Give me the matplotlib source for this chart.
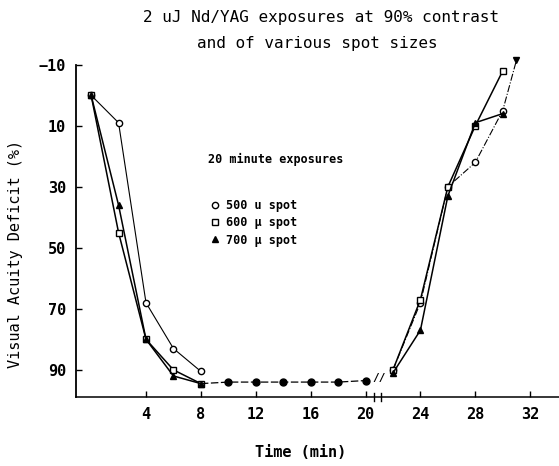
import matplotlib.pyplot as plt
from matplotlib.lines import Line2D

# early phase (exposure), minutes
t_early = [0, 2, 4, 6, 8]
early_500 = [0, 9, 68, 83, 90.5]
early_600 = [0, 45, 80, 90, 94.5]
early_700 = [0, 36, 80, 92, 94.5]

# plateau during the exposure (shared points)
t_plateau = [8, 10, 12, 14, 16, 18, 20]
plateau = [94.5, 94, 94, 94, 94, 94, 93.5]

# recovery phase
t_rec_500 = [22, 24, 26, 28, 30, 31]
rec_500 = [90, 68, 30, 22, 5, -11.5]
t_rec = [22, 24, 26, 28, 30]
rec_600 = [90, 67, 30, 10, -8]
rec_700 = [91, 77, 33, 9, 6]

labels = ['500 u spot', '600 \u00b5 spot', '700 \u00b5 spot']
x_ticks = [4, 8, 12, 16, 20, 24, 28, 32]
y_ticks = [-10, 10, 30, 50, 70, 90]

mono = 'DejaVu Sans Mono'
plt.rcParams['font.family'] = mono

fig = plt.figure(figsize=(5.59, 4.66), dpi=100)
ax = fig.add_axes([0.136, 0.148, 0.864, 0.713])

s500 = dict(color='k', lw=0.8, marker='o', ms=4.5, mfc='white', mec='k')
s600 = dict(color='k', lw=1.1, marker='s', ms=4.5, mfc='white', mec='k')
s700 = dict(color='k', lw=1.1, marker='^', ms=4.5, mfc='k', mec='k')

ax.plot(t_early, early_500, **s500)
ax.plot(t_early, early_600, **s600)
ax.plot(t_early, early_700, **s700)
ax.plot(t_plateau[1:], plateau[1:], ls='none', marker='o', ms=5, color='k')
ax.plot(t_plateau, plateau, color='k', lw=0.9, ls=(0, (6, 2)))

ax.plot(t_rec_500, rec_500, ls='-.', clip_on=False, markevery=list(range(len(rec_500) - 1)), **s500)
ax.plot(t_rec_500[-1:], rec_500[-1:], ls='none', marker='v', ms=4, color='k', clip_on=False)
ax.plot(t_rec, rec_600, **s600)
ax.plot(t_rec, rec_700, **s700)

# break marks between plateau and recovery
ax.text(21, 92.5, '//', ha='center', va='center', fontsize=8, fontweight='bold')

ax.set_xlim(-1.1, 34.1)
ax.set_ylim(98.9, -10)
ax.set_xticks(x_ticks)
ax.set_yticks(y_ticks)
ax.tick_params(direction='in', length=4, width=1, labelsize=11, pad=7)
for lab in ax.get_xticklabels() + ax.get_yticklabels():
    lab.set_fontweight('bold')

for side in ['top', 'right']:
    ax.spines[side].set_visible(False)
ax.spines['left'].set_linewidth(1.3)
ax.spines['bottom'].set_linewidth(1.1)

# axis break on the time axis
trans = ax.get_xaxis_transform()
for xb in [20.6, 21.1]:
    ax.plot([xb, xb], [-0.012, 0.012], color='k', lw=1, transform=trans, clip_on=False)

ax.set_ylabel('Visual Acuity Deficit (%)', fontsize=11)
ax.yaxis.set_label_coords(-0.11, 0.43)
fig.text(0.537, 0.013, 'Time (min)', ha='center', va='bottom', fontsize=11, fontweight='bold')

fig.text(0.575, 0.963, '2 uJ Nd/YAG exposures at 90% contrast', ha='center', va='center', fontsize=11.5)
fig.text(0.568, 0.907, 'and of various spot sizes', ha='center', va='center', fontsize=11.5)

fig.text(0.372, 0.657, '20 minute exposures', ha='left', va='center', fontsize=8.5, fontweight='bold')
handles = [Line2D([], [], ls='none', **{k: v for k, v in s.items() if k not in ('lw', 'color')}, color='k')
           for s in (s500, s600, s700)]
ax.legend(handles, labels, loc='upper left', bbox_to_anchor=(0.366, 0.585), bbox_transform=fig.transFigure,
          frameon=False, borderpad=0, handlelength=0.8, handletextpad=0.5, labelspacing=0.35,
          prop={'family': mono, 'size': 8.5, 'weight': 'bold'})

fig.savefig('out.png', dpi=100)
